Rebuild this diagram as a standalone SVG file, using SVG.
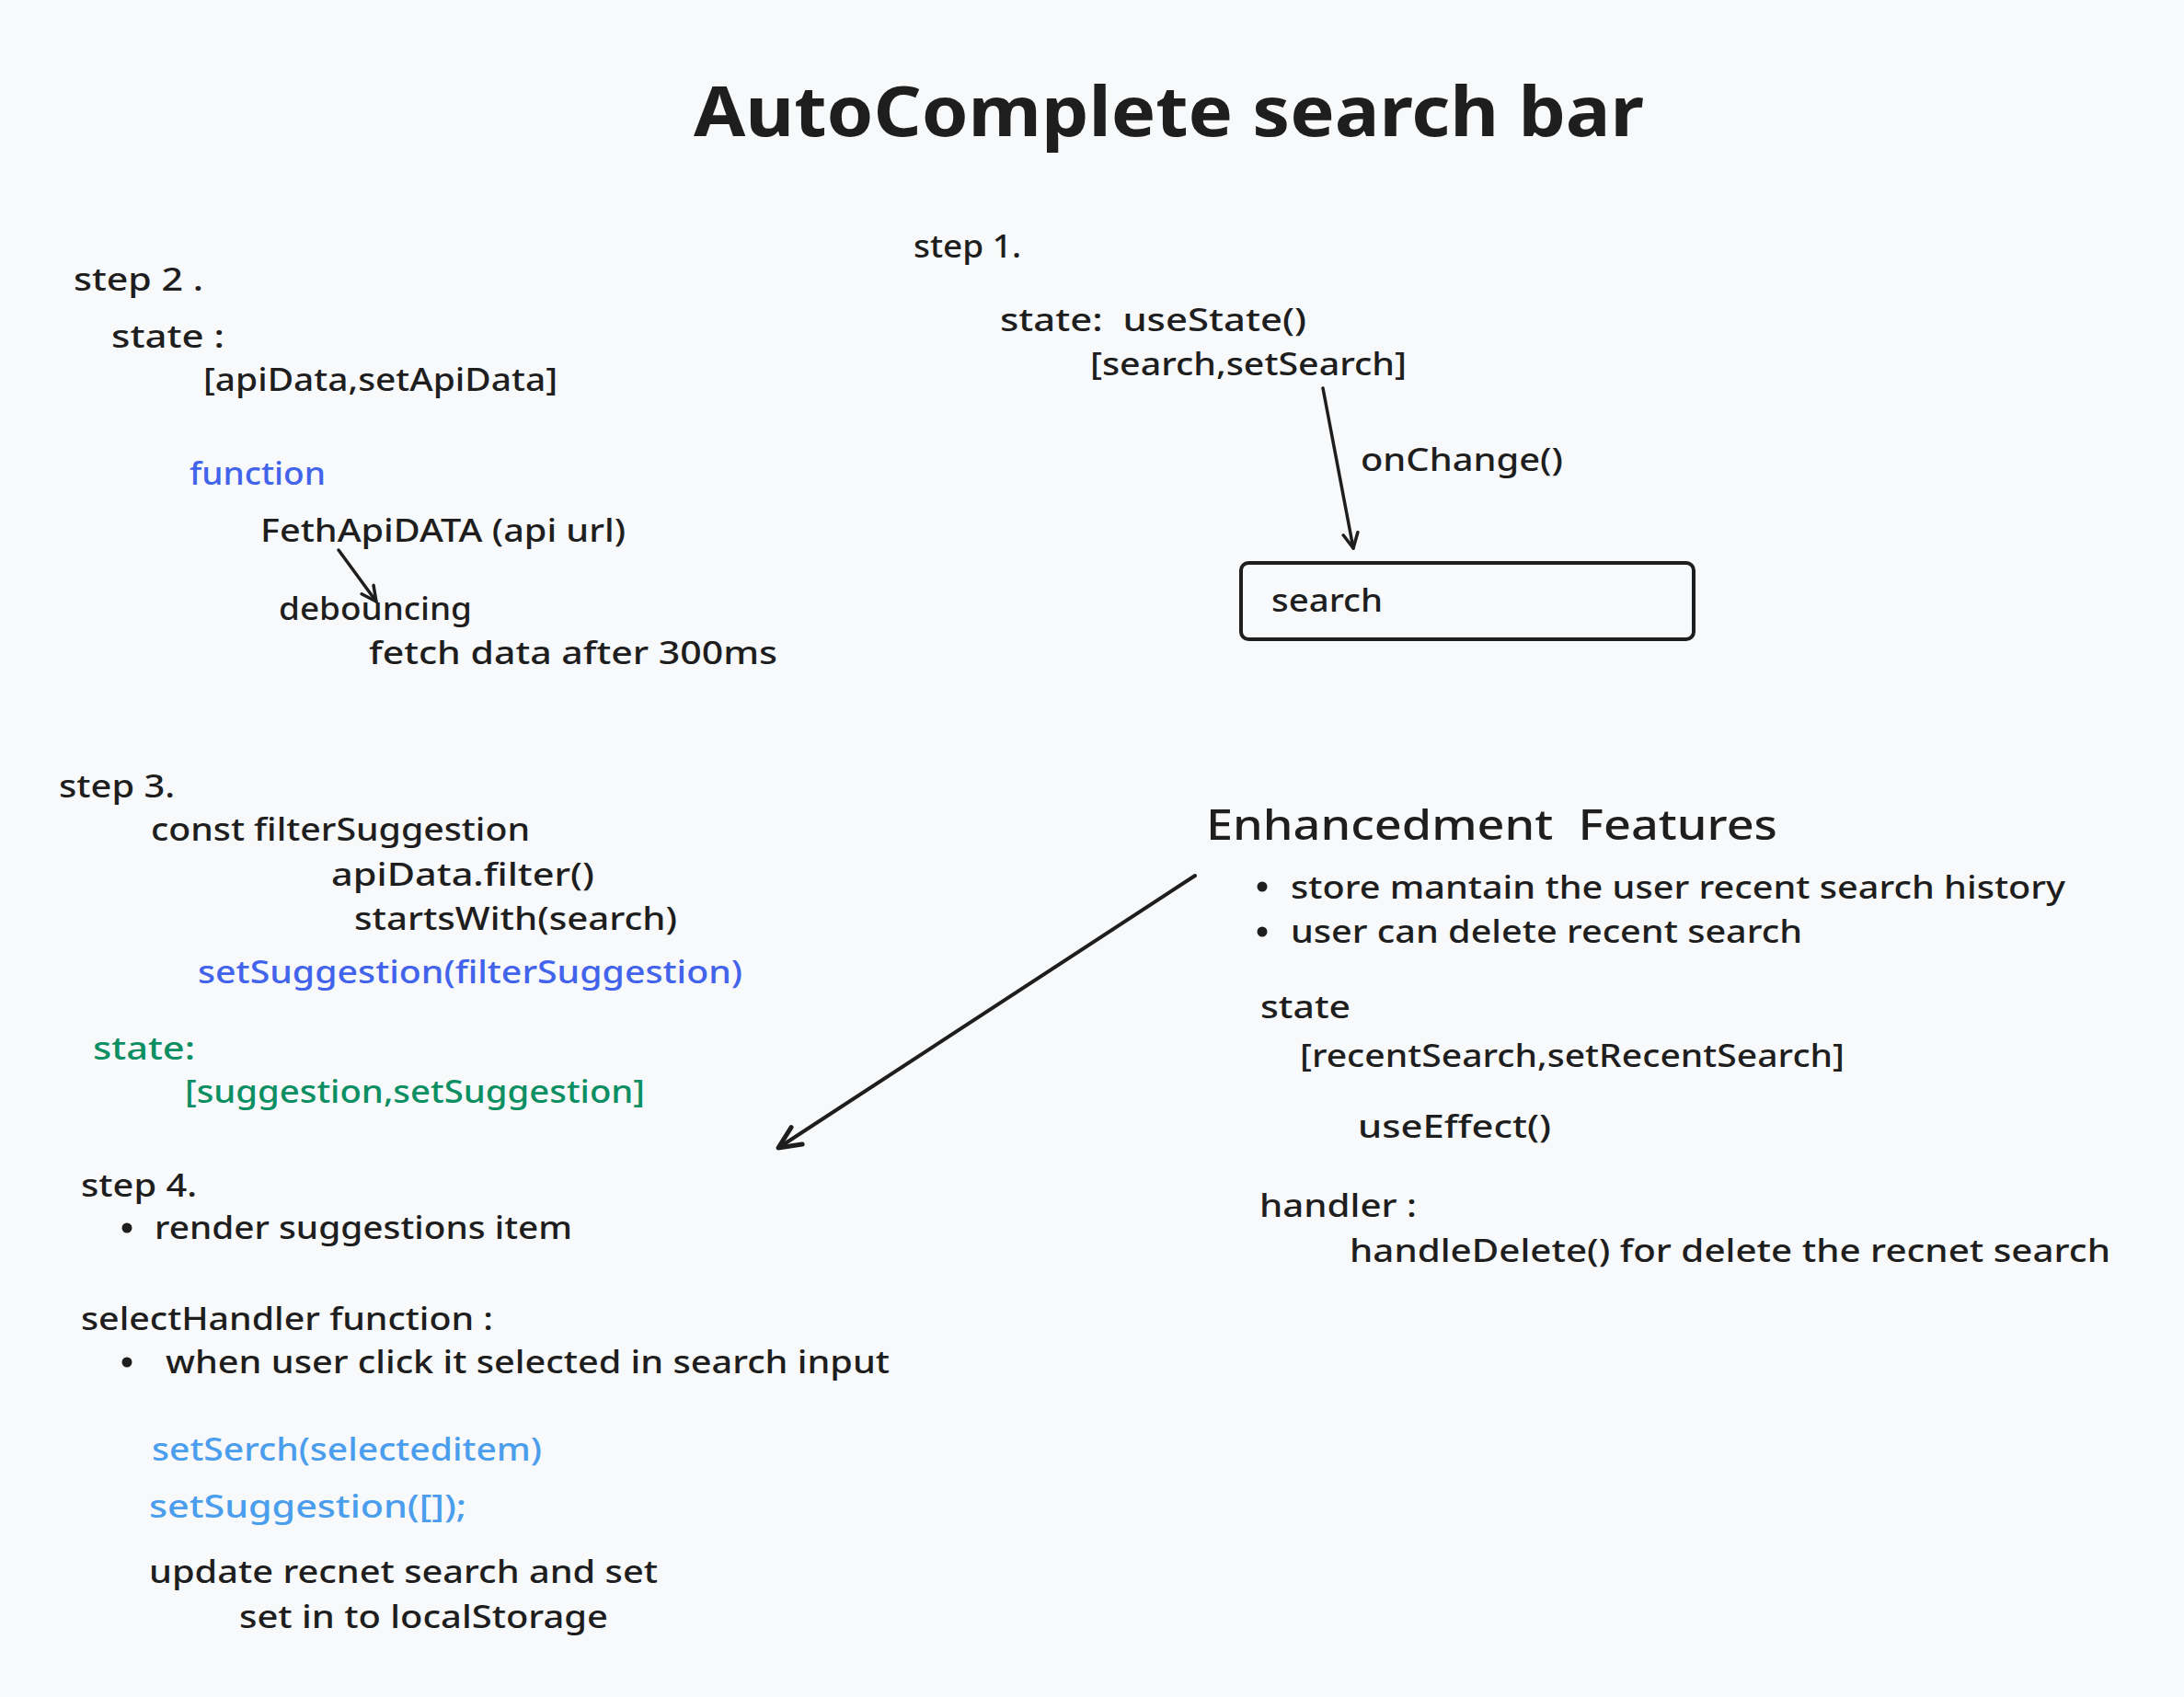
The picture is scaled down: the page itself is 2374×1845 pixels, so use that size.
<svg xmlns="http://www.w3.org/2000/svg" width="2374" height="1845" viewBox="0 0 2374 1845">
<defs>
<style>
text{font-family:"Noto Sans","DejaVu Sans",sans-serif;fill:#1e1e1e;font-size:34px;font-weight:500;white-space:pre}
.title{font-size:76px;font-weight:bold}
.h2{font-size:46px}
.blue{fill:#4263eb}
.green{fill:#0c8f63}
.lblue{fill:#4a9eed}
.conn{fill:none;stroke:#1e1e1e;stroke-width:3.5;stroke-linecap:round;stroke-linejoin:round}
</style>
<marker id="ah" viewBox="0 0 20 20" refX="18" refY="10" markerWidth="20" markerHeight="20" markerUnits="userSpaceOnUse" orient="auto">
<path d="M2,2 L18,10 L2,18" fill="none" stroke="#1e1e1e" stroke-width="3.5" stroke-linecap="round" stroke-linejoin="round"/>
</marker>
<marker id="ahb" viewBox="0 0 30 30" refX="27" refY="15" markerWidth="30" markerHeight="30" markerUnits="userSpaceOnUse" orient="auto">
<path d="M3,4 L27,15 L3,26" fill="none" stroke="#1e1e1e" stroke-width="5" stroke-linecap="round" stroke-linejoin="round"/>
</marker>
</defs>
<rect width="2374" height="1845" fill="#f8f9fa"/>

<g id="title"><text class="title" x="754" y="148" textLength="1033" lengthAdjust="spacingAndGlyphs">AutoComplete search bar</text></g>

<g id="step1">
<text x="993" y="280" textLength="117" lengthAdjust="spacingAndGlyphs">step 1.</text>
<text x="1087" y="360" textLength="333" lengthAdjust="spacingAndGlyphs">state:  useState()</text>
<text x="1185" y="408" textLength="344" lengthAdjust="spacingAndGlyphs">[search,setSearch]</text>
</g>

<g id="search-box">
<rect x="1349" y="612" width="492" height="83" rx="8" fill="none" stroke="#1e1e1e" stroke-width="4"/>
<text x="1382" y="665" textLength="121" lengthAdjust="spacingAndGlyphs">search</text>
</g>

<g id="step2">
<text x="80" y="316" textLength="141" lengthAdjust="spacingAndGlyphs">step 2 .</text>
<text x="121" y="378" textLength="123" lengthAdjust="spacingAndGlyphs">state :</text>
<text x="221" y="425" textLength="385" lengthAdjust="spacingAndGlyphs">[apiData,setApiData]</text>
<text class="blue" x="206" y="527" textLength="148" lengthAdjust="spacingAndGlyphs">function</text>
<text x="283" y="589" textLength="397" lengthAdjust="spacingAndGlyphs">FethApiDATA (api url)</text>
<text x="303" y="674" textLength="210" lengthAdjust="spacingAndGlyphs">debouncing</text>
<text x="401" y="722" textLength="444" lengthAdjust="spacingAndGlyphs">fetch data after 300ms</text>
</g>

<g id="step3">
<text x="64" y="867" textLength="126" lengthAdjust="spacingAndGlyphs">step 3.</text>
<text x="164" y="914" textLength="412" lengthAdjust="spacingAndGlyphs">const filterSuggestion</text>
<text x="360" y="963" textLength="286" lengthAdjust="spacingAndGlyphs">apiData.filter()</text>
<text x="385" y="1011" textLength="351" lengthAdjust="spacingAndGlyphs">startsWith(search)</text>
<text class="blue" x="215" y="1069" textLength="592" lengthAdjust="spacingAndGlyphs">setSuggestion(filterSuggestion)</text>
<text class="green" x="101" y="1152" textLength="111" lengthAdjust="spacingAndGlyphs">state:</text>
<text class="green" x="201" y="1199" textLength="500" lengthAdjust="spacingAndGlyphs">[suggestion,setSuggestion]</text>
</g>

<g id="step4">
<text x="88" y="1301" textLength="126" lengthAdjust="spacingAndGlyphs">step 4.</text>
<circle cx="138" cy="1335" r="5.5" fill="#1e1e1e"/>
<text x="168" y="1347" textLength="454" lengthAdjust="spacingAndGlyphs">render suggestions item</text>
<text x="88" y="1446" textLength="448" lengthAdjust="spacingAndGlyphs">selectHandler function :</text>
<circle cx="138" cy="1481" r="5.5" fill="#1e1e1e"/>
<text x="180" y="1493" textLength="787" lengthAdjust="spacingAndGlyphs">when user click it selected in search input</text>
<text class="lblue" x="165" y="1588" textLength="424" lengthAdjust="spacingAndGlyphs">setSerch(selecteditem)</text>
<text class="lblue" x="162" y="1650" textLength="345" lengthAdjust="spacingAndGlyphs">setSuggestion([]);</text>
<text x="162" y="1721" textLength="553" lengthAdjust="spacingAndGlyphs">update recnet search and set</text>
<text x="260" y="1770" textLength="401" lengthAdjust="spacingAndGlyphs">set in to localStorage</text>
</g>

<g id="enhancements">
<text class="h2" x="1311" y="913" textLength="621" lengthAdjust="spacingAndGlyphs">Enhancedment  Features</text>
<circle cx="1372" cy="964" r="5.5" fill="#1e1e1e"/>
<text x="1403" y="977" textLength="842" lengthAdjust="spacingAndGlyphs">store mantain the user recent search history</text>
<circle cx="1372" cy="1013" r="5.5" fill="#1e1e1e"/>
<text x="1403" y="1025" textLength="556" lengthAdjust="spacingAndGlyphs">user can delete recent search</text>
<text x="1370" y="1107" textLength="98" lengthAdjust="spacingAndGlyphs">state</text>
<text x="1413" y="1160" textLength="592" lengthAdjust="spacingAndGlyphs">[recentSearch,setRecentSearch]</text>
<text x="1476" y="1237" textLength="210" lengthAdjust="spacingAndGlyphs">useEffect()</text>
<text x="1369" y="1323" textLength="171" lengthAdjust="spacingAndGlyphs">handler :</text>
<text x="1467" y="1372" textLength="827" lengthAdjust="spacingAndGlyphs">handleDelete() for delete the recnet search</text>
</g>

<g id="connectors">
<path class="conn" d="M1438,422 L1471,596" marker-end="url(#ah)"/>
<text x="1479" y="512" textLength="220" lengthAdjust="spacingAndGlyphs">onChange()</text>
<path class="conn" d="M368,598 L409,654" marker-end="url(#ah)"/>
<path class="conn" d="M1299,952 L846,1248" marker-end="url(#ahb)" style="stroke-width:4"/>
</g>
</svg>
